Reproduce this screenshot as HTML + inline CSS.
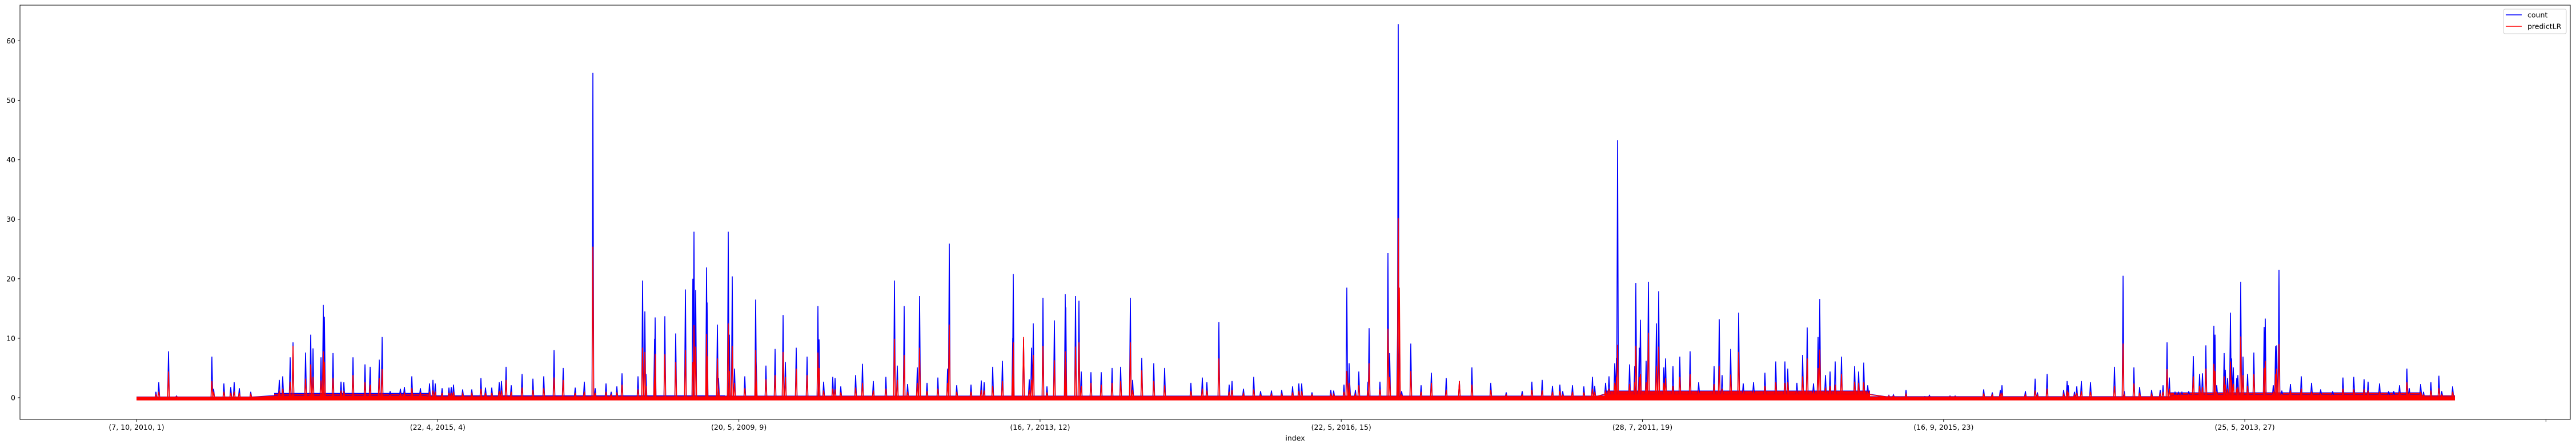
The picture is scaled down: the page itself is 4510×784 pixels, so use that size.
<!DOCTYPE html>
<html><head><meta charset="utf-8"><style>
html,body{margin:0;padding:0;background:#fff;}
svg{display:block;font-family:"DejaVu Sans","Liberation Sans",sans-serif;}
</style></head>
<body>
<svg id="chart" width="4510" height="784" viewBox="0 0 4510 784" xmlns="http://www.w3.org/2000/svg">
<rect x="0" y="0" width="4510" height="784" fill="#fff"/>
<g id="bands"></g>
<g id="series"></g>
<g id="axes"></g>
<g id="legend">
  <rect x="4383" y="16" width="110" height="43" rx="3" fill="#fff" fill-opacity="0.8" stroke="#d0d0d0"/>
  <line x1="4387" y1="26" x2="4415" y2="26" stroke="#0000ff" stroke-width="1.5"/>
  <text x="4425" y="30.5" font-size="12.5" fill="#000">count</text>
  <line x1="4387" y1="46" x2="4415" y2="46" stroke="#ff0000" stroke-width="1.5"/>
  <text x="4425" y="50.5" font-size="12.5" fill="#000">predictLR</text>
</g>
</svg>
<script>
// ---- data ----
const xTickIdx = [0, 527.3, 1054.6, 1581.9, 2109.2, 2636.5, 3163.8, 3691.1, 4218.4];
const xTickLabels = ["(7, 10, 2010, 1)", "(22, 4, 2015, 4)", "(20, 5, 2009, 9)", "(16, 7, 2013, 12)", "(22, 5, 2016, 15)", "(28, 7, 2011, 19)", "(16, 9, 2015, 23)", "(25, 5, 2013, 27)", ""];
const yTicks = [0, 10, 20, 30, 40, 50, 60];
const sampleCount = 4060;
// baseline noise segments: start index, typical count level, typical prediction level
const segStart = [0, 241, 512, 1030, 2050, 2570, 3035, 3560, 4000];
const segCount = [0.2, 0.8, 0.4, 0.35, 0.35, 1.2, 0.25, 0.9, 0.4];
const segPred  = [0.15, 0.6, 0.3, 0.3, 0.3, 1.1, 0.2, 0.8, 0.35];
// spike sample indices with count value and predicted value
const spikeIdx = [34,39,56,70,132,135,153,165,171,180,200,250,256,269,274,296,305,309,323,327,329,344,358,363,379,400,409,425,430,444,462,469,482,497,
513,519,523,535,547,551,555,571,587,603,611,622,635,639,647,656,675,694,713,731,747,768,784,799,803,822,831,841,850,878,886,890,892,907,908,925,944,961,974,976,979,998,999,1017,
1019,1036,1038,1043,1047,1065,1084,1085,1102,1118,1132,1136,1155,1174,1193,1195,1203,1219,1223,1233,1259,1271,1290,1312,1327,1332,1344,1350,1367,1371,1384,1403,1420,1423,1436,1461,1479,1484,1499,1516,
1534,1535,1553,1563,1567,1570,1587,1594,1607,1626,1627,1644,1650,1654,1671,1689,1708,1723,1740,1744,1760,1781,1800,1846,1866,1874,1895,1913,1918,1938,1956,1968,1987,2005,2024,2035,2040,
2058,2091,2096,2114,2119,2123,2124,2134,2140,2156,2158,2177,2191,2194,2208,2209,2211,2215,2231,2249,2267,2293,2316,2338,2371,2398,2426,2443,2461,2479,2492,2497,2514,2534,2549,
2553,2572,2578,2588,2591,2593,2614,2623,2625,2631,2633,2643,2647,2661,2665,2674,2677,2690,2702,2720,2735,2762,2771,2776,2791,2805,2813,2831,2851,2870,2886,2891,2907,2917,2925,2936,2944,2947,2957,2965,2974,2985,3008,3015,3024,3031,
3068,3076,3098,3131,3139,3175,3184,3234,3249,3263,3266,3307,3324,3328,3345,3374,3380,3382,3393,3397,3405,3421,3463,3478,3480,3497,3507,3528,3543,3548,3555,3559,
3569,3575,3581,3593,3601,3612,3617,3623,3637,3639,3642,3655,3657,3661,3666,3668,3671,3677,3679,3684,3688,3696,3707,3725,3727,3741,3745,3747,3751,3756,3771,3790,3808,3824,3845,3863,3882,3900,3907,3927,3943,3952,3962,3975,3979,3999,4004,4017,4031,4036,4055];
const countVals = [1.0,2.6,7.8,0.3,6.9,1.5,2.4,1.8,2.6,1.6,1.0,3.0,3.6,6.8,9.3,7.6,10.6,8.3,6.8,15.6,13.6,7.5,2.7,2.6,6.8,5.6,5.2,6.4,10.2,1.1,1.5,1.8,3.6,1.6,
2.4,3.0,2.4,1.6,1.7,1.8,2.2,1.4,1.4,3.3,1.7,1.7,2.6,2.8,5.2,2.1,4.0,3.2,3.6,8.0,5.0,1.7,2.7,54.6,1.6,2.4,1.0,1.9,4.1,3.6,19.7,14.5,4.0,9.9,13.5,13.7,10.8,18.2,20.0,27.9,18.1,21.9,16.0,12.3,
3.3,27.9,10.6,20.4,4.9,3.6,16.5,6.0,5.4,8.2,13.9,6.0,8.4,6.9,15.4,9.8,2.7,3.5,3.3,1.9,3.8,5.7,2.8,3.5,19.7,5.4,15.4,2.3,5.1,17.1,2.5,3.4,4.9,25.9,2.1,2.2,2.9,2.6,5.2,6.2,
10.0,20.8,9.9,3.1,8.4,12.5,16.8,1.9,13.0,17.4,15.2,17.1,16.3,4.4,4.3,4.3,5.0,5.2,16.8,3.0,6.7,5.8,5.0,2.5,3.4,2.6,12.7,2.2,2.8,1.5,3.5,1.1,1.2,1.3,1.9,2.4,2.4,
0.9,1.3,1.2,2.2,18.5,5.8,2.6,1.3,4.4,2.7,11.7,2.7,24.3,7.5,13.0,62.8,14.0,1.1,9.1,2.1,4.2,3.3,2.8,5.1,2.5,0.9,1.1,2.7,3.0,2.0,2.2,1.1,2.1,1.9,3.5,
2.0,2.5,3.6,5.8,6.7,43.3,5.6,5.3,19.3,8.4,13.1,6.2,19.5,12.5,17.9,5.1,6.6,5.3,6.9,7.8,2.6,5.3,13.2,3.8,8.2,14.3,2.4,2.6,4.2,6.1,6.1,4.9,2.5,7.2,11.8,2.4,10.2,16.6,3.8,4.4,6.1,6.9,5.3,4.4,5.9,2.1,
0.4,0.5,1.3,0.2,0.4,0.3,0.3,1.4,0.9,1.3,2.1,1.1,3.2,0.9,4.0,1.3,2.8,2.1,1.0,1.9,2.8,2.6,5.2,20.5,1.1,5.1,1.8,1.3,1.3,2.1,9.3,3.4,
0.9,0.9,0.9,1.1,7.0,4.0,4.1,8.8,12.1,10.6,2.1,7.5,4.7,3.3,14.3,6.6,5.1,3.3,3.8,19.5,6.9,4.0,7.6,11.9,13.3,2.1,8.7,8.8,21.5,1.2,2.3,3.6,2.5,1.4,1.1,3.4,3.5,3.1,2.7,2.4,1.1,1.1,2.1,4.9,1.6,2.3,1.0,2.6,3.7,1.1,1.9];
const predVals = [0.5,1.0,4.4,0.2,2.8,1.0,1.0,0.8,1.0,0.8,0.6,1.2,1.5,2.7,8.7,3.2,5.6,3.5,2.9,7.8,6.0,3.3,1.2,1.1,3.8,2.6,2.2,3.3,4.8,0.5,0.7,0.8,1.6,0.9,
1.0,1.2,1.0,0.8,0.8,0.8,1.0,0.7,0.7,1.5,0.8,0.8,1.1,1.2,3.0,1.0,1.7,1.3,1.6,3.4,3.0,0.8,1.0,25.4,0.8,1.0,0.5,0.9,2.2,1.4,8.4,7.7,2.0,3.5,7.4,7.3,6.0,8.0,6.0,12.2,8.6,10.7,7.0,6.6,
1.5,12.5,4.5,8.7,2.5,1.6,8.0,3.0,3.1,3.8,7.7,3.5,4.9,3.8,7.6,5.0,1.2,1.5,1.4,0.9,1.7,2.5,1.2,1.5,9.9,3.0,7.2,1.0,2.5,8.4,1.1,1.5,2.5,12.3,1.0,1.0,1.3,1.2,2.0,2.8,
4.0,9.3,10.2,1.3,3.0,7.2,8.7,0.9,6.3,7.8,6.0,8.6,9.3,2.0,2.5,2.2,2.5,2.8,9.3,1.3,4.6,2.8,2.1,1.1,1.5,1.2,6.6,1.0,1.3,0.7,1.4,0.5,0.6,0.6,0.9,1.1,1.1,
0.5,0.6,0.6,1.0,4.5,2.5,1.2,0.6,2.1,1.2,5.8,1.4,11.6,3.5,5.0,30.2,18.5,0.5,4.5,1.0,2.5,1.3,2.8,2.2,1.3,0.5,0.5,1.3,1.2,1.0,1.1,0.5,1.0,0.9,1.5,
1.0,1.1,1.5,2.5,3.5,8.9,2.3,2.6,8.7,3.5,4.0,2.6,10.9,5.3,8.6,2.5,3.3,2.0,3.5,4.0,1.2,2.3,5.3,1.5,3.9,7.7,1.1,1.2,2.0,2.6,2.5,2.6,1.2,3.6,6.6,1.1,5.0,8.1,1.7,2.0,2.2,4.0,2.7,2.5,2.6,1.0,
0.3,0.3,0.6,0.1,0.2,0.2,0.2,0.7,0.5,0.6,0.8,0.5,1.2,0.5,1.5,0.6,1.2,0.9,0.5,0.8,1.1,1.0,2.0,9.1,0.5,2.4,0.8,0.6,0.6,1.0,4.8,1.5,
0.5,0.5,0.5,0.6,3.6,2.0,1.8,4.9,5.7,4.5,1.0,3.6,2.2,1.5,6.1,3.0,2.3,1.5,1.8,10.3,3.8,2.0,4.0,5.0,6.2,1.0,4.0,4.9,9.0,0.6,1.2,1.5,1.0,0.7,0.5,1.5,1.4,1.4,1.2,1.0,0.5,0.5,1.0,2.6,0.8,1.0,0.5,1.2,1.6,0.5,1.0];

// ---- scales ----
const plotL = 35, plotR = 4500, plotT = 9, plotB = 734;
function xScale(i){ return 239 + i * (4298 - 239) / (sampleCount - 1); }
function yScale(v){ return 696 - v * 10.41; }
const NS = "http://www.w3.org/2000/svg";
function mk(tag, attrs, parent){ const e = document.createElementNS(NS, tag); for (const k in attrs) e.setAttribute(k, attrs[k]); parent.appendChild(e); return e; }

// ---- baseline bands ----
const bands = document.getElementById('bands');
for (let s = 0; s < segStart.length; s++) {
  const i0 = segStart[s];
  const i1 = s + 1 < segStart.length ? segStart[s + 1] : sampleCount - 1;
  const bc = mk('rect', {x: xScale(i0), y: yScale(segCount[s]), width: xScale(i1) - xScale(i0), height: yScale(-0.2) - yScale(segCount[s]), fill: '#0000ff'}, bands);
  
  
  const bp = mk('rect', {x: xScale(i0), y: yScale(segPred[s]), width: xScale(i1) - xScale(i0), height: yScale(-0.45) - yScale(segPred[s]), fill: '#ff0000'}, bands);
  
  
}

// ---- series ----
function segBase(i, arr){ let b = arr[0]; for (let s = 0; s < segStart.length; s++) if (i >= segStart[s]) b = arr[s]; return b; }
function buildPath(vals, baseArr){
  let d = 'M' + xScale(0) + ',' + yScale(baseArr[0] * 0.5);
  for (let k = 0; k < spikeIdx.length; k++) {
    const i = spikeIdx[k], b = segBase(i, baseArr) * 0.5;
    d += ' L' + (xScale(i) - 1.5) + ',' + yScale(b) + ' L' + xScale(i) + ',' + yScale(vals[k]) + ' L' + (xScale(i) + 1.5) + ',' + yScale(b);
  }
  d += ' L' + xScale(sampleCount - 1) + ',' + yScale(baseArr[baseArr.length - 1] * 0.5);
  return d;
}
const series = document.getElementById('series');
const pc = mk('path', {d: buildPath(countVals, segCount), fill: 'none', stroke: '#0000ff', 'stroke-width': 1.6, 'stroke-linejoin': 'miter'}, series);


const pp = mk('path', {d: buildPath(predVals, segPred), fill: 'none', stroke: '#ff0000', 'stroke-width': 1.6}, series);



// ---- axes ----
const axes = document.getElementById('axes');
const frame = mk('rect', {x: plotL, y: plotT, width: plotR - plotL, height: plotB - plotT, fill: 'none', stroke: '#000', 'stroke-width': 1}, axes);


for (let k = 0; k < yTicks.length; k++) {
  const y = yScale(yTicks[k]);
  const t = mk('line', {x1: plotL - 4, y1: y, x2: plotL, y2: y, stroke: '#000'}, axes);
  
  
  const l = mk('text', {x: plotL - 8, y: y + 4.5, 'text-anchor': 'end', 'font-size': 12.5, fill: '#000'}, axes);
  l.textContent = yTicks[k];
  
  
}
for (let k = 0; k < xTickIdx.length; k++) {
  const x = xScale(xTickIdx[k]);
  const t = mk('line', {x1: x, y1: plotB, x2: x, y2: plotB + 4, stroke: '#000'}, axes);
  
  
  const l = mk('text', {x: x, y: 752, 'text-anchor': 'middle', 'font-size': 12.5, fill: '#000'}, axes);
  l.textContent = xTickLabels[k];
  
  
}
const xt = mk('text', {x: (plotL + plotR) / 2, y: 771, 'text-anchor': 'middle', 'font-size': 12.5, fill: '#000'}, axes);
xt.textContent = 'index';


</script>
</body></html>
